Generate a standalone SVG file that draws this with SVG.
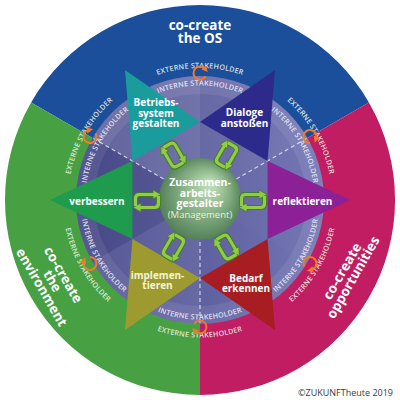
<svg xmlns="http://www.w3.org/2000/svg" width="400" height="400" viewBox="0 0 400 400">
<defs>
<style>
.big{font-family:"Open Sans","Liberation Sans",sans-serif;font-weight:700;font-size:13.5px;fill:#fff;text-anchor:middle}
.lbl{font-family:"Open Sans","Liberation Sans",sans-serif;font-weight:700;font-size:10px;fill:#fff;text-anchor:middle}
.sh{font-family:"Open Sans","Liberation Sans",sans-serif;font-weight:600;font-size:7.2px;letter-spacing:0.2px;text-anchor:middle}
.ext{fill:#eef2e6;fill-opacity:0.9}
.int{fill:#ecebf7;fill-opacity:0.92}
.dash{stroke:#fff;stroke-opacity:0.7;stroke-width:1.2;stroke-dasharray:4 3;fill:none}
.orng{fill:none;stroke:#ef7a2c;stroke-width:2}
.gd{fill:none;stroke:#3f7d2b;stroke-width:5.2;stroke-linejoin:round}
.gl{fill:none;stroke:#93cb45;stroke-width:3.2;stroke-linejoin:round}
.gh{fill:#93cb45;stroke:#3f7d2b;stroke-width:0.8;stroke-linejoin:round}
</style>
<radialGradient id="sph" cx="0.5" cy="0.5" r="0.55" fx="0.64" fy="0.3">
<stop offset="0" stop-color="#c8e3bc"/>
<stop offset="0.5" stop-color="#88b386"/>
<stop offset="1" stop-color="#4c7852"/>
</radialGradient>
<linearGradient id="disk" x1="0" y1="0" x2="1" y2="0">
<stop offset="0" stop-color="#4a4b8c"/>
<stop offset="1" stop-color="#7376b4"/>
</linearGradient>
<marker id="oa" viewBox="0 0 6 6" refX="2" refY="3" markerWidth="3.2" markerHeight="3.2" orient="auto" markerUnits="strokeWidth">
<path d="M0,0 L6,3 L0,6 Z" fill="#ef7a2c"/>
</marker>
<path id="e-t" d="M106.66,106.66 A132,132 0 0 1 293.34,106.66"/>
<path id="i-t" d="M119.04,119.04 A114.5,114.5 0 0 1 280.96,119.04"/>
<path id="e-ul" d="M72.5,234.16 A132,132 0 0 1 165.84,72.5"/>
<path id="i-ul" d="M89.4,229.63 A114.5,114.5 0 0 1 170.37,89.4"/>
<path id="e-ur" d="M234.16,72.5 A132,132 0 0 1 327.5,234.16"/>
<path id="i-ur" d="M229.63,89.4 A114.5,114.5 0 0 1 310.6,229.63"/>
<path id="e-b" d="M102.77,297.23 A137.5,137.5 0 0 0 297.23,297.23"/>
<path id="i-b" d="M115.5,284.5 A119.5,119.5 0 0 0 284.5,284.5"/>
<path id="e-ll" d="M67.19,164.41 A137.5,137.5 0 0 0 164.41,332.81"/>
<path id="i-ll" d="M84.57,169.07 A119.5,119.5 0 0 0 169.07,315.43"/>
<path id="e-lr" d="M235.59,332.81 A137.5,137.5 0 0 0 332.81,164.41"/>
<path id="i-lr" d="M230.93,315.43 A119.5,119.5 0 0 0 315.43,169.07"/>
<g id="rep">
<path class="gd" d="M-11.5,5 V-2.5 Q-11.5,-6.5 -7.5,-6.5 H7"/>
<path class="gd" d="M11.5,-5 V2.5 Q11.5,6.5 7.5,6.5 H-7"/>
<polygon class="gh" points="6,-11 14,-6.5 6,-2"/>
<polygon class="gh" points="-6,2 -14,6.5 -6,11"/>
<path class="gl" d="M-11.5,5 V-2.5 Q-11.5,-6.5 -7.5,-6.5 H7"/>
<path class="gl" d="M11.5,-5 V2.5 Q11.5,6.5 7.5,6.5 H-7"/>
</g>
<path id="orc" class="orng" d="M5.63,3.25 A6.5,6.5 0 1 1 4.98,-4.18" marker-end="url(#oa)"/>
</defs>
<rect width="400" height="400" fill="#fff"/>
<g id="sectors">
<path id="sector-os" d="M200,200 L31.1,102.5 A195,195 0 0 1 368.9,102.5 Z" fill="#1b4f9c"/>
<path id="sector-opp" d="M200,200 L368.9,102.5 A195,195 0 0 1 200,395 Z" fill="#c01d63"/>
<path id="sector-env" d="M200,200 L200,395 A195,195 0 0 1 31.1,102.5 Z" fill="#47a143"/>
</g>
<g id="disk-g">
<circle cx="200" cy="200" r="124" fill="url(#disk)"/>
<path d="M200,200 L92.61,138 A124,124 0 0 1 200,76 Z" fill="#fff" fill-opacity="0.12"/>
<path d="M200,200 L200,76 A124,124 0 0 1 307.39,138 Z" fill="#fff" fill-opacity="0.05"/>
<path d="M200,200 L307.39,138 A124,124 0 0 1 307.39,262 Z" fill="#fff" fill-opacity="0.02"/>
<path d="M200,200 L200,324 A124,124 0 0 1 92.61,262 Z" fill="#fff" fill-opacity="0.06"/>
<path d="M200,200 L92.61,262 A124,124 0 0 1 92.61,138 Z" fill="#000" fill-opacity="0.04"/>
<circle cx="200" cy="200" r="115" fill="none" stroke="#fff" stroke-opacity="0.08" stroke-width="18"/>
</g>
<g id="connectors">
<line class="dash" x1="163.63" y1="179" x2="92.61" y2="138"/>
<line class="dash" x1="236.37" y1="179" x2="307.39" y2="138"/>
<line class="dash" x1="200" y1="242" x2="200" y2="324"/>
</g>
<g id="node-reflektieren">
<polygon points="350,200 267.55,161 267.55,239" fill="#8c2096"/>
<text class="lbl" x="302.5" y="204.5">reflektieren</text>
</g>
<g id="node-dialoge">
<polygon points="275,70 200,122 267.55,161" fill="#2c2b8b"/>
<text class="lbl" x="244.5" y="116">Dialoge</text>
<text class="lbl" x="244.5" y="126.5">anstoßen</text>
</g>
<g id="node-betriebssystem">
<polygon points="125,70 132.45,161 200,122" fill="#1b9c9c"/>
<text class="lbl" x="156" y="106">Betriebs-</text>
<text class="lbl" x="156" y="116.5">system</text>
<text class="lbl" x="156" y="127">gestalten</text>
</g>
<g id="node-verbessern">
<polygon points="50,200 132.45,239 132.45,161" fill="#1f9b4e"/>
<text class="lbl" x="97" y="204.5">verbessern</text>
</g>
<g id="node-implementieren">
<polygon points="125,330 200,278 132.45,239" fill="#9d9b30"/>
<text class="lbl" x="157.5" y="278.5" style="fill:#f6f2d6">implemen-</text>
<text class="lbl" x="157.5" y="289" style="fill:#f6f2d6">tieren</text>
</g>
<g id="node-bedarf">
<polygon points="275,330 267.55,239 200,278" fill="#a71d22"/>
<text class="lbl" x="246" y="281.5">Bedarf</text>
<text class="lbl" x="246" y="292">erkennen</text>
</g>
<g id="node-center">
<circle cx="200" cy="199" r="41" fill="url(#sph)"/>
<text class="lbl" x="200" y="186" style="font-size:10.5px">Zusammen-</text>
<text class="lbl" x="200" y="196.5" style="font-size:10.5px">arbeits-</text>
<text class="lbl" x="200" y="207" style="font-size:10.5px">gestalter</text>
<text class="lbl" x="200" y="218" style="font-size:9.5px;font-weight:400;fill:#e4f0de">(Management)</text>
</g>
<g id="cycle-arrows">
<use href="#rep" transform="translate(253,201)"/>
<use href="#rep" transform="translate(147,201)"/>
<use href="#rep" transform="translate(226.5,155) rotate(-60)"/>
<use href="#rep" transform="translate(173.5,155) rotate(60)"/>
<use href="#rep" transform="translate(173.5,247) rotate(-60)"/>
<use href="#rep" transform="translate(226.5,247) rotate(60)"/>
</g>
<g id="stakeholder-labels">
<text class="sh ext"><textPath href="#e-t" startOffset="50%">EXTERNE STAKEHOLDER</textPath></text>
<text class="sh int"><textPath href="#i-t" startOffset="50%">INTERNE STAKEHOLDER</textPath></text>
<text class="sh ext"><textPath href="#e-ul" startOffset="50%">EXTERNE STAKEHOLDER</textPath></text>
<text class="sh int"><textPath href="#i-ul" startOffset="50%">INTERNE STAKEHOLDER</textPath></text>
<text class="sh ext"><textPath href="#e-ur" startOffset="50%">EXTERNE STAKEHOLDER</textPath></text>
<text class="sh int"><textPath href="#i-ur" startOffset="50%">INTERNE STAKEHOLDER</textPath></text>
<text class="sh ext"><textPath href="#e-b" startOffset="50%">EXTERNE STAKEHOLDER</textPath></text>
<text class="sh int"><textPath href="#i-b" startOffset="50%">INTERNE STAKEHOLDER</textPath></text>
<text class="sh ext"><textPath href="#e-ll" startOffset="50%">EXTERNE STAKEHOLDER</textPath></text>
<text class="sh int"><textPath href="#i-ll" startOffset="50%">INTERNE STAKEHOLDER</textPath></text>
<text class="sh ext"><textPath href="#e-lr" startOffset="50%">EXTERNE STAKEHOLDER</textPath></text>
<text class="sh int"><textPath href="#i-lr" startOffset="50%">INTERNE STAKEHOLDER</textPath></text>
</g>
<g id="exchange-icons">
<use href="#orc" transform="translate(200,73)"/>
<use href="#orc" transform="translate(90,136.5) rotate(-60)"/>
<use href="#orc" transform="translate(310,136.5) rotate(60)"/>
<use href="#orc" transform="translate(200,327) rotate(180)"/>
<use href="#orc" transform="translate(90,263.5) rotate(-120)"/>
<use href="#orc" transform="translate(310,263.5) rotate(120)"/>
</g>
<g id="sector-titles">
<text class="big" x="200" y="30">co-create</text>
<text class="big" x="200" y="42.5">the OS</text>
<g transform="translate(52.5,281) rotate(60)">
<text class="big" x="0" y="-7.8">co-create</text>
<text class="big" x="0" y="4.7">the</text>
<text class="big" x="0" y="17.2">environment</text>
</g>
<g transform="translate(347.5,274.25) rotate(-60)">
<text class="big" x="0" y="-1.5">co-create</text>
<text class="big" x="0" y="11">opportunities</text>
</g>
</g>
<text x="393" y="396" text-anchor="end" font-family="'Open Sans','Liberation Sans',sans-serif" font-size="9" fill="#3a3a3a">©ZUKUNFTheute 2019</text>
</svg>
